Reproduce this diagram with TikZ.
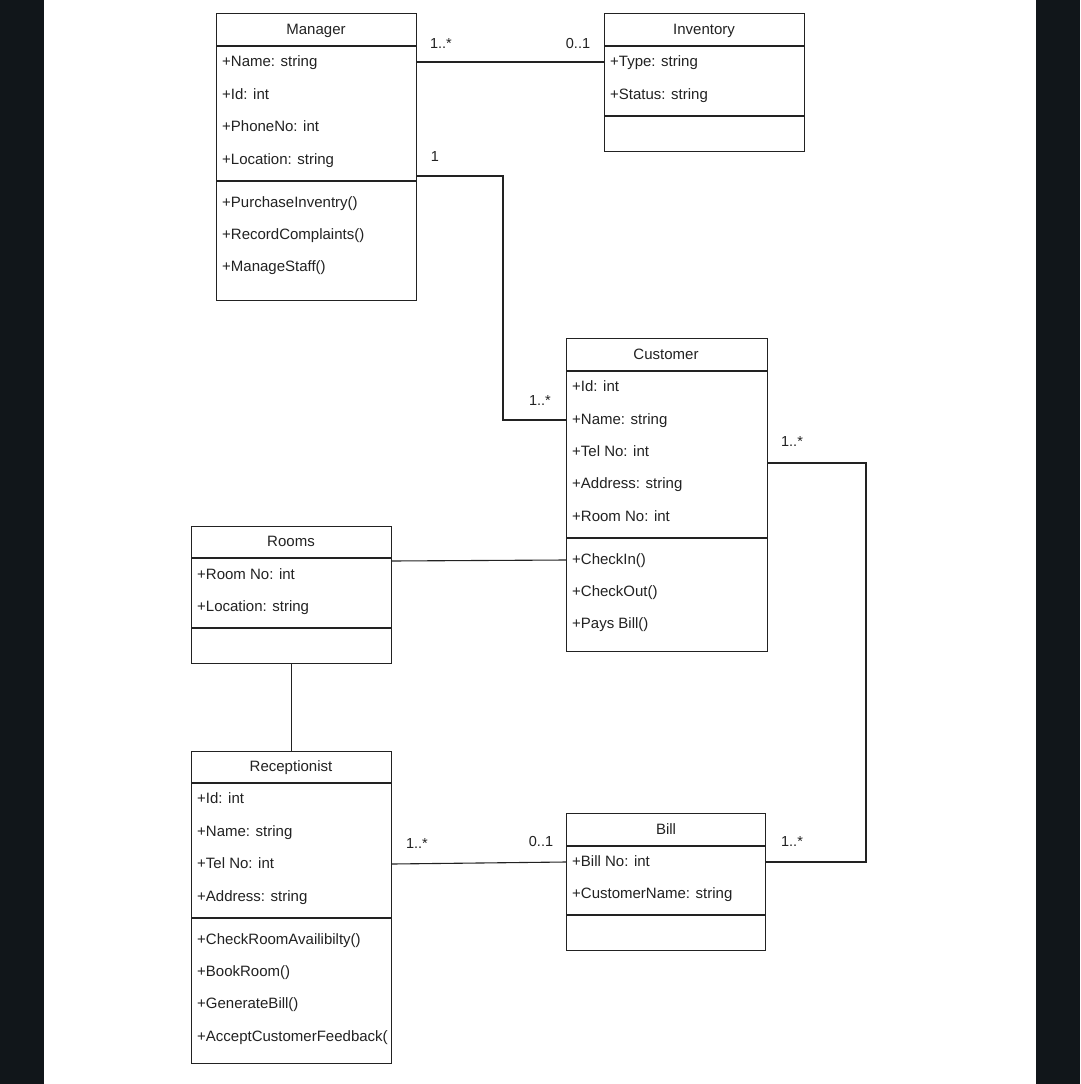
\documentclass[tikz,border=0pt]{standalone}
\usepackage{fontspec}
\setmainfont{Liberation Sans}
\definecolor{frame}{HTML}{11161A}
\definecolor{ink}{HTML}{222222}
\begin{document}
\begin{tikzpicture}[x=1pt,y=-1pt,
  cls/.style={draw=ink, line width=1.1pt, fill=white, anchor=north west, inner sep=0pt},
  sep/.style={draw=ink, line width=1.1pt},
  title/.style={font=\fontsize{15}{18}\selectfont, text=ink, inner sep=0pt, text height=11pt, text depth=2pt},
  attr/.style={font=\fontsize{15}{18}\selectfont, text=ink, inner sep=0pt, anchor=west, text height=11pt, text depth=2pt},
  mult/.style={font=\fontsize{14.5}{17}\selectfont, text=ink, inner sep=0pt, text height=11pt, text depth=2pt},
  conn/.style={draw=ink, line width=1.1pt}]
\useasboundingbox (0,0) rectangle (1080,1084);
\fill[white] (0,0) rectangle (1080,1084);
\fill[frame] (0,0) rectangle (44,1084);
\fill[frame] (1036,0) rectangle (1080,1084);

% Manager
\node[cls, minimum width=200pt, minimum height=287pt] (mgr) at (216,13) {};
\draw[sep] (216,46) -- (416,46);
\draw[sep] (216,181) -- (416,181);
\node[title] (mgrT) at (316,30) {Manager};
\node[attr] (mName) at (222,62) {+Name: string};
\node[attr] (mId) at (222,95) {+Id: int};
\node[attr] (mPhone) at (222,127) {+PhoneNo: int};
\node[attr] (mLoc) at (222,160) {+Location: string};
\node[attr] (mP) at (222,203) {+PurchaseInventry()};
\node[attr] (mR) at (222,235) {+RecordComplaints()};
\node[attr] (mM) at (222,267) {+ManageStaff()};

% Inventory
\node[cls, minimum width=200pt, minimum height=138pt] (inv) at (604,13) {};
\draw[sep] (604,46) -- (804,46);
\draw[sep] (604,116) -- (804,116);
\node[title] (invT) at (704,30) {Inventory};
\node[attr] (iType) at (610,62) {+Type: string};
\node[attr] (iStat) at (610,95) {+Status: string};

% Customer
\node[cls, minimum width=201pt, minimum height=313pt] (cus) at (566,338) {};
\draw[sep] (566,371) -- (767,371);
\draw[sep] (566,538) -- (767,538);
\node[title] (cusT) at (666,355) {Customer};
\node[attr] (cId) at (572,387) {+Id: int};
\node[attr] (cName) at (572,420) {+Name: string};
\node[attr] (cTel) at (572,452) {+Tel No: int};
\node[attr] (cAddr) at (572,484) {+Address: string};
\node[attr] (cRoom) at (572,517) {+Room No: int};
\node[attr] (cIn) at (572,560) {+CheckIn()};
\node[attr] (cOut) at (572,592) {+CheckOut()};
\node[attr] (cPay) at (572,624) {+Pays Bill()};

% Rooms
\node[cls, minimum width=200pt, minimum height=137pt] (rms) at (191,526) {};
\draw[sep] (191,558) -- (391,558);
\draw[sep] (191,628) -- (391,628);
\node[title] (rmsT) at (291,542) {Rooms};
\node[attr] (rNo) at (197,575) {+Room No: int};
\node[attr] (rLoc) at (197,607) {+Location: string};

% Receptionist
\node[cls, minimum width=200pt, minimum height=312pt] (rec) at (191,751) {};
\draw[sep] (191,783) -- (391,783);
\draw[sep] (191,918) -- (391,918);
\node[title] (recT) at (291,767) {Receptionist};
\node[attr] (eId) at (197,799) {+Id: int};
\node[attr] (eName) at (197,832) {+Name: string};
\node[attr] (eTel) at (197,864) {+Tel No: int};
\node[attr] (eAddr) at (197,897) {+Address: string};
\node[attr] (eChk) at (197,940) {+CheckRoomAvailibilty()};
\node[attr] (eBook) at (197,972) {+BookRoom()};
\node[attr] (eGen) at (197,1004) {+GenerateBill()};
\begin{scope}
\clip (192,1020) rectangle (387,1055);
\node[attr] (eAcc) at (197,1037) {+AcceptCustomerFeedback()};
\end{scope}

% Bill
\node[cls, minimum width=199pt, minimum height=137pt] (bil) at (566,813) {};
\draw[sep] (566,846) -- (765,846);
\draw[sep] (566,915) -- (765,915);
\node[title] (bilT) at (666,830) {Bill};
\node[attr] (bNo) at (572,862) {+Bill No: int};
\node[attr] (bCust) at (572,894) {+CustomerName: string};

% Connectors
\coordinate (mgrOut) at (416,176);
\coordinate (cusOut) at (767,463);
\coordinate (rmsOut) at (391,561);
\draw[conn] (mgr.east |- mName) -- (inv.west |- iType);
\draw[conn] (mgrOut) -| (503,420) -- (cus.west |- cName);
\draw[conn] (cusOut) -| (866,862) -- (bil.east |- bNo);
\draw[conn] (rmsOut) -- (cus.west |- cIn);
\draw[conn] (rms.south) -- (rec.north);
\draw[conn] (rec.east |- eTel) -- (bil.west |- bNo);

% Multiplicities
\node[mult] (l1) at (441,44) {1..*};
\node[mult] (l2) at (578,44) {0..1};
\node[mult] (l3) at (435,157) {1};
\node[mult] (l4) at (540,401) {1..*};
\node[mult] (l5) at (792,442) {1..*};
\node[mult] (l6) at (792,842) {1..*};
\node[mult] (l7) at (417,844) {1..*};
\node[mult] (l8) at (541,842) {0..1};
\end{tikzpicture}
\end{document}
